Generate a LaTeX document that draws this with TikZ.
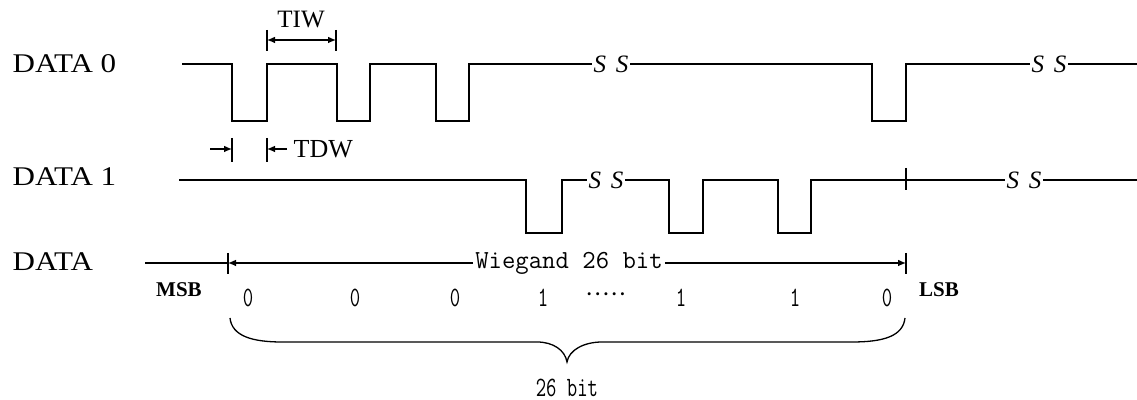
\documentclass[tikz,border=0pt]{standalone}
\usepackage{fontspec}
\setmainfont{Liberation Serif}
\newfontfamily\lblfont[FakeStretch=1.15]{Liberation Serif}
\newfontfamily\wgfont{Latin Modern Mono}
\newfontfamily\nmfont[FakeStretch=0.72]{Latin Modern Mono}
\usetikzlibrary{arrows.meta}
\begin{document}
\begin{tikzpicture}[x=0.5pt,y=-0.5pt, line width=0.65pt,
  wave/.style={line width=0.7pt, line join=miter},
  lbl/.style={font=\lblfont\fontsize{13.5}{16}\selectfont, inner sep=0pt, anchor=west},
  brk/.style={font=\fontsize{12.5}{14}\selectfont\itshape, inner sep=0.6pt},
  dig/.style={font=\nmfont\fontsize{14}{16}\selectfont, inner sep=0pt},
  sml/.style={font=\fontsize{12.5}{15}\selectfont, inner sep=0pt},
  msb/.style={font=\bfseries\fontsize{10.5}{12}\selectfont, inner sep=0pt},
  wg/.style={font=\wgfont\fontsize{13}{16}\selectfont, inner sep=0.8pt},
  tick/.style={line width=0.65pt},
  dimarrow/.style={-{Latex[length=4pt,width=3.4pt]}, line width=0.65pt},
  dimboth/.style={{Latex[length=4pt,width=3.4pt]}-{Latex[length=4pt,width=3.4pt]}, line width=0.65pt},
  ]
\useasboundingbox (0,0) rectangle (1137,400);

% labels
\node[lbl] (d0) at (12,64) {DATA 0};
\node[lbl] (d1) at (12,177) {DATA 1};
\node[lbl] (dd) at (12,262) {DATA};

% break marks
\node[brk] (s1) at (611,64) {S\hspace{0.4em}S};
\node[brk] (s2) at (1049,64) {S\hspace{0.4em}S};
\node[brk] (s3) at (606,180) {S\hspace{0.4em}S};
\node[brk] (s4) at (1024,180) {S\hspace{0.4em}S};

% DATA 0 waveform
\coordinate (d0start) at (182,64);
\draw[wave] (d0start) -| (232,121) -| (267,64) -| (337,121) -| (370,64) -| (436,121) -| (469,64) -- (s1.west);
\draw[wave] (s1.east) -| (872,121) -| (906,64) -- (s2.west);
\coordinate (d0end) at (1137,64);
\draw[wave] (s2.east) -- (d0end);

% DATA 1 waveform
\coordinate (d1start) at (179,180);
\draw[wave] (d1start) -| (526,233) -| (562,180) -- (s3.west);
\draw[wave] (s3.east) -| (669,233) -| (703,180) -| (778,233) -| (811,180) -- (s4.west);
\coordinate (d1end) at (1137,180);
\draw[wave] (s4.east) -- (d1end);
\draw[tick] (906,168) -- (906,190);

% TIW
\draw[tick] (267,30) -- (267,51);
\draw[tick] (336,30) -- (336,51);
\coordinate (tiwl) at (267,40);
\coordinate (tiwr) at (336,40);
\draw[dimboth] (tiwl) -- (tiwr);
\node[sml] (tiw) at (301,20) {TIW};

% TDW
\draw[tick] (232,138) -- (232,162);
\draw[tick] (267,138) -- (267,162);
\coordinate (tdwa) at (210,149);
\coordinate (tdwb) at (232,149);
\coordinate (tdwc) at (287,149);
\coordinate (tdwd) at (267,149);
\draw[dimarrow] (tdwa) -- (tdwb);
\draw[dimarrow] (tdwc) -- (tdwd);
\node[sml, anchor=west, font=\fontsize{13}{15}\selectfont] (tdw) at (293,149) {TDW};

% DATA row
\coordinate (dstart) at (145,263);
\coordinate (msbt) at (228,263);
\coordinate (lsbt) at (906,263);
\draw[wave] (dstart) -- (msbt);
\draw[tick] (228,253) -- (228,274);
\draw[tick] (906,253) -- (906,274);
\node[wg] (wg) at (569,263) {Wiegand 26 bit};
\draw[dimarrow] (wg.west) -- (msbt);
\draw[dimarrow] (wg.east) -- (lsbt);

\node[msb] (msb) at (179,290) {MSB};
\node[msb] (lsb) at (939,290) {LSB};

% bit values
\node[dig] (b1) at (248,298) {0};
\node[dig] (b2) at (355,298) {0};
\node[dig] (b3) at (455,298) {0};
\node[dig] (b4) at (543,298) {1};
\node[sml] (dots) at (606,298) {·····};
\node[dig] (b5) at (681,298) {1};
\node[dig] (b6) at (795,298) {1};
\node[dig] (b7) at (887,298) {0};

% brace
\coordinate (bl) at (230,318);
\coordinate (br) at (905,318);
\coordinate (btip) at (567,362);
\draw[line width=0.65pt] (bl) .. controls (232,336) and (252,342) .. (282,342) -- (537,342)
  .. controls (553,342) and (565,350) .. (btip)
  .. controls (569,350) and (584,342) .. (602,342) -- (852,342)
  .. controls (884,342) and (903,336) .. (br);
\node[dig] (total) at (567,388) {26 bit};
\end{tikzpicture}
\end{document}
